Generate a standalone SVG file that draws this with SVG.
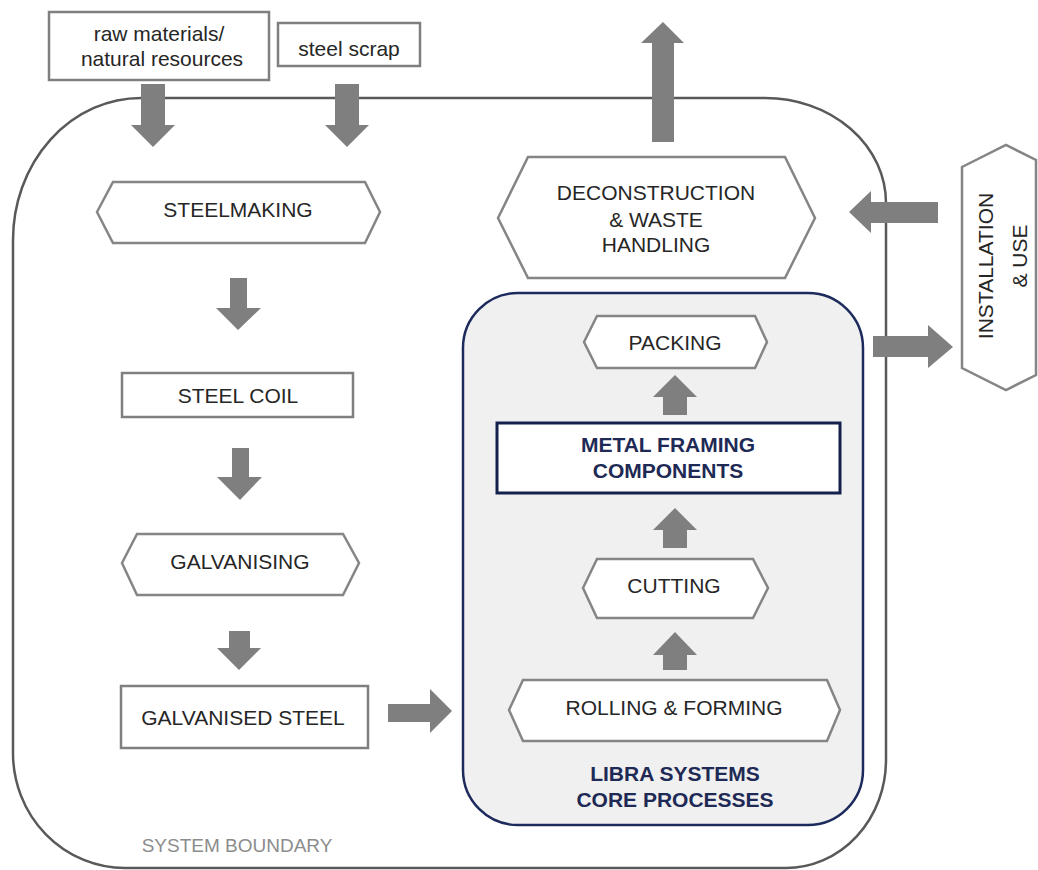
<svg xmlns="http://www.w3.org/2000/svg" width="1038" height="870" viewBox="0 0 1038 870">
<style>
.box{fill:#fff;stroke:#7f7f7f;stroke-width:2.5}
.hex{fill:#fff;stroke:#858585;stroke-width:2.5}
.t{font-family:"Liberation Sans",Arial,sans-serif;font-size:21px;fill:#262626;text-anchor:middle}
.b{font-family:"Liberation Sans",Arial,sans-serif;font-size:21px;font-weight:bold;fill:#1e2a55;text-anchor:middle}
.arr{fill:#7f7f7f}
</style>
<rect width="1038" height="870" fill="#fff"/>
<g id="boundary">
<path d="M141,98 H765 A121 105 0 0 1 886 203 V760 A100 108 0 0 1 786 868 H125 A112 115 0 0 1 13 753 V240 A128 142 0 0 1 141 98 Z" fill="none" stroke="#595959" stroke-width="2.5"/>
<text x="237" y="852" class="t" style="font-size:19px;fill:#8c8c8c">SYSTEM BOUNDARY</text>
</g>
<g id="core">
<rect x="463" y="293" width="400" height="532" rx="55" ry="55" fill="#f0f0f0" stroke="#1c2a5c" stroke-width="2.5"/>
<text x="675" y="781" class="b">LIBRA SYSTEMS</text>
<text x="675" y="807" class="b">CORE PROCESSES</text>
</g>
<g id="raw">
<rect x="49" y="12" width="220" height="68" class="box"/>
<text x="159" y="41" class="t">raw materials/</text>
<text x="162" y="66" class="t">natural resources</text>
</g>
<g id="scrap">
<rect x="278" y="23" width="142" height="43" class="box"/>
<text x="349" y="56" class="t">steel scrap</text>
</g>
<g id="steelmaking">
<polygon points="97,212 113,182 365,182 380,212 365,243 113,243" class="hex"/>
<text x="238" y="217" class="t">STEELMAKING</text>
</g>
<g id="coil">
<rect x="122" y="373" width="231" height="44" class="box"/>
<text x="238" y="403" class="t">STEEL COIL</text>
</g>
<g id="galvanising">
<polygon points="122,563 137,534 343,534 359,563 343,595 137,595" class="hex"/>
<text x="240" y="569" class="t">GALVANISING</text>
</g>
<g id="galvanised">
<rect x="121" y="686" width="247" height="62" class="box"/>
<text x="243" y="725" class="t">GALVANISED STEEL</text>
</g>
<g id="deconstruction">
<polygon points="498,218 528,157 785,157 815,218 785,278 528,278" class="hex"/>
<text x="656" y="200" class="t">DECONSTRUCTION</text>
<text x="656" y="227" class="t">&amp; WASTE</text>
<text x="656" y="252" class="t">HANDLING</text>
</g>
<g id="installation">
<polygon points="962,167 1006,145 1036,160 1036,375 1006,390 962,368" class="hex"/>
<text class="t" transform="translate(993,266) rotate(-90)">INSTALLATION</text>
<text class="t" transform="translate(1027,256) rotate(-90)">&amp; USE</text>
</g>
<g id="packing">
<polygon points="584,342 597,316 755,316 767,342 755,368 597,368" class="hex"/>
<text x="675" y="350" class="t">PACKING</text>
</g>
<g id="mfc">
<rect x="497" y="423" width="343" height="70" fill="#fff" stroke="#14214d" stroke-width="3"/>
<text x="668" y="452" class="b">METAL FRAMING</text>
<text x="668" y="478" class="b">COMPONENTS</text>
</g>
<g id="cutting">
<polygon points="583,588 597,559 753,559 768,588 753,618 597,618" class="hex"/>
<text x="674" y="593" class="t">CUTTING</text>
</g>
<g id="rolling">
<polygon points="509,710 523,680 827,680 840,710 827,741 523,741" class="hex"/>
<text x="674" y="715" class="t">ROLLING &amp; FORMING</text>
</g>
<g id="connectors">
<polygon class="arr" points="141,84 165,84 165,125 175,125 153,147 131,125 141,125"/>
<polygon class="arr" points="335,84 359,84 359,125 369,125 347,147 325,125 335,125"/>
<polygon class="arr" points="230,278 247,278 247,308 261,308 238,330 216,308 230,308"/>
<polygon class="arr" points="232,448 249,448 249,477 262,477 240,500 217,477 232,477"/>
<polygon class="arr" points="229,631 250,631 250,648 261,648 239,670 217,648 229,648"/>
<polygon class="arr" points="388,704 430,704 430,689 452,711 430,733 430,722 388,722"/>
<polygon class="arr" points="663,415 687,415 687,397 697,397 675,375 653,397 663,397"/>
<polygon class="arr" points="663,548 687,548 687,530 697,530 675,508 653,530 663,530"/>
<polygon class="arr" points="663,670 687,670 687,655 697,655 675,632 653,655 663,655"/>
<polygon class="arr" points="652,142 674,142 674,43 684,43 663,22 641,43 652,43"/>
<polygon class="arr" points="938,202 938,223 871,223 871,233 849,212 871,191 871,202"/>
<polygon class="arr" points="873,336 928,336 928,325 953,347 928,368 928,357 873,357"/>
</g>
</svg>
